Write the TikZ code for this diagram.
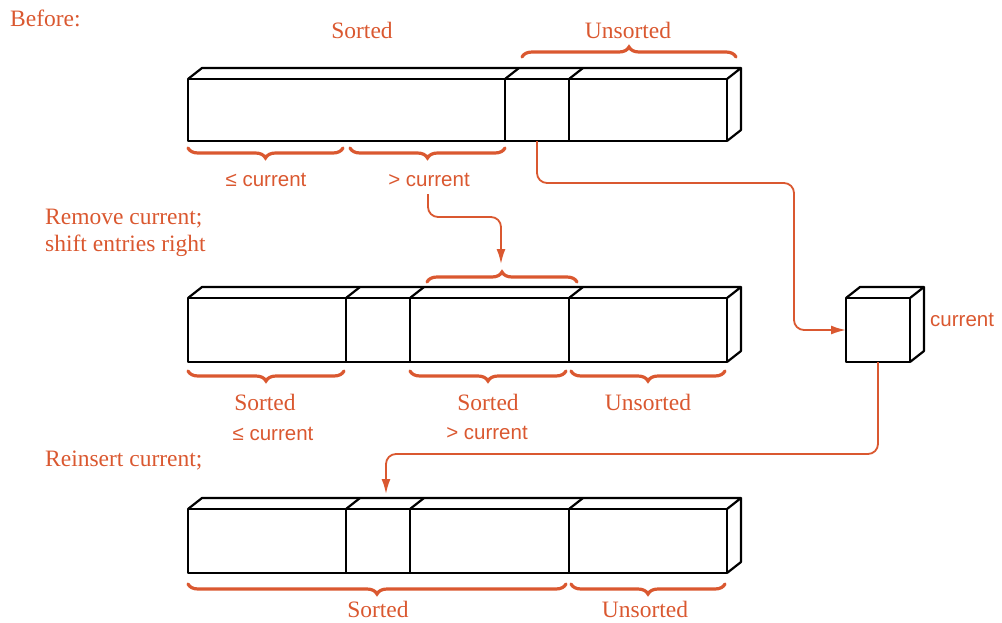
\documentclass[tikz,border=0pt]{standalone}
\usepackage{fontspec}
\setmainfont{Liberation Serif}
\setsansfont{Liberation Sans}
\usetikzlibrary{arrows.meta,decorations.pathreplacing,calc}
\definecolor{acc}{RGB}{218,88,48}
\newcommand\prism[4]{% x1 x2 top bottom
  \draw[barline] (#1,#3) rectangle (#2,#4);
  \draw[barline] (#1,#3) -- ++(14,-11) -- ($(#2,#3)+(14,-11)$) -- (#2,#3);
  \draw[barline] ($(#2,#3)+(14,-11)$) -- ($(#2,#4)+(14,-11)$) -- (#2,#4);}
\newcommand\divider[3]{% x top bottom
  \draw[barline] (#1,#2) -- (#1,#3);
  \draw[barline] (#1,#2) -- ++(14,-11);}
\tikzset{
  barline/.style={line width=2.2pt, line join=round, black},
  brc/.style={acc, line width=3.2pt, line cap=round, decorate, decoration={brace, amplitude=10pt}},
  conn/.style={acc, line width=1.8pt, rounded corners=10pt, -{Latex[length=15pt,width=9pt]}},
  ser/.style={acc, font=\fontsize{23.5}{27}\selectfont, inner sep=0pt},
  san/.style={acc, font=\sffamily\fontsize{20.5}{24}\selectfont, inner sep=0pt},
}
\begin{document}
\begin{tikzpicture}[x=1pt,y=-1pt]
\useasboundingbox (0,0) rectangle (1002,622);
% top bar
\prism{188}{727}{79}{141}
\divider{505}{79}{141}
\divider{569}{79}{141}
% current box
\prism{846}{910}{298}{362}
% middle bar
\prism{188}{727}{298}{362}
\divider{346}{298}{362}
\divider{410}{298}{362}
\divider{569}{298}{362}
% bottom bar
\prism{188}{727}{509}{573}
\divider{346}{509}{573}
\divider{410}{509}{573}
\divider{569}{509}{573}
% braces
\draw[brc] (522,57) -- (736,57);
\draw[brc] (343,148) -- (188,148);
\draw[brc] (505,148) -- (350,148);
\draw[brc] (427,282) -- (577,282);
\draw[brc] (344,371) -- (188,371);
\draw[brc] (566,371) -- (410,371);
\draw[brc] (725,371) -- (571,371);
\draw[brc] (566,584) -- (188,584);
\draw[brc] (725,584) -- (571,584);
% texts
\node[ser, anchor=west] (before) at (10,18) {Before:};
\node[ser] (s1) at (362,30) {Sorted};
\node[ser] (u1) at (628,30) {Unsorted};
\node[san] (le1) at (266,180) {≤ current};
\node[san] (gt1) at (429,180) {> current};
\node[ser, anchor=west, align=left] (remove) at (45,233) {Remove current;\\shift entries right};
\node[san, anchor=west] (curlab) at (930,320) {current};
\node[ser] (s2) at (265,402) {Sorted};
\node[ser] (s3) at (488,402) {Sorted};
\node[ser] (u2) at (648,402) {Unsorted};
\node[san] (le2) at (273,434) {≤ current};
\node[san] (gt2) at (487,433) {> current};
\node[ser, anchor=west] (reins) at (45,461) {Reinsert current;};
\node[ser] (s4) at (378,609.5) {Sorted};
\node[ser] (u3) at (645,609.5) {Unsorted};
% connector endpoints
\coordinate (c1s) at (537,141);
\coordinate (c1e) at (846,330);
\coordinate (c2s) at (428,194);
\coordinate (c2e) at (501,264);
\coordinate (c3s) at (878,362);
\coordinate (c3e) at (386,494);
\draw[conn] (c1s) |- (794,183) |- (c1e);
\draw[conn] (c2s) |- (501,217) -- (c2e);
\draw[conn] (c3s) |- (386,454) -- (c3e);
\end{tikzpicture}
\end{document}
